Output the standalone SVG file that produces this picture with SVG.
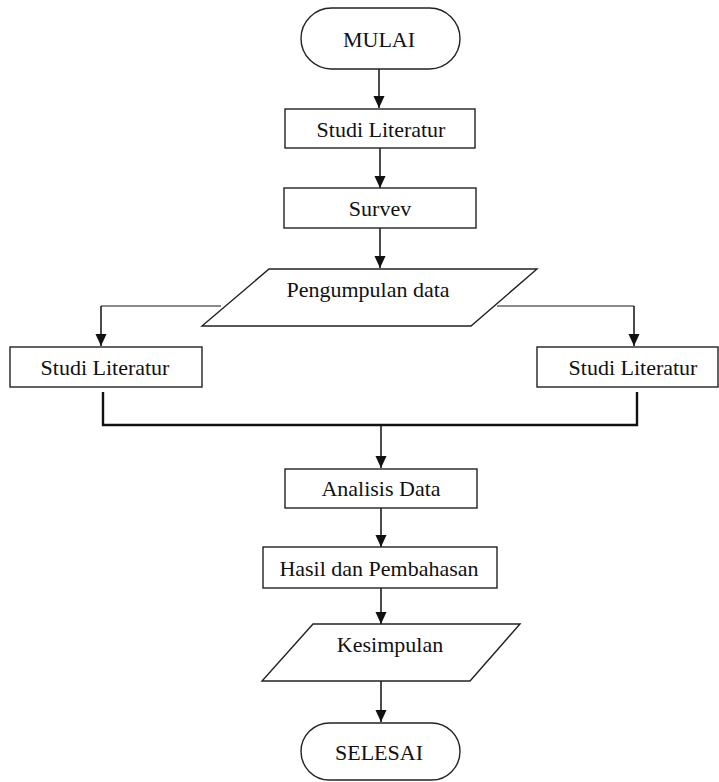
<svg xmlns="http://www.w3.org/2000/svg" width="719" height="782" viewBox="0 0 719 782">
<style>
.s{fill:#fff;stroke:#222;stroke-width:1.4}
text{font-family:'Liberation Serif','Times New Roman',serif;font-size:22px;fill:#111;text-anchor:middle}
.c{fill:none;stroke:#111;stroke-width:1.5}
.g{fill:none;stroke:#8a8a8a;stroke-width:2.2}
.k{fill:none;stroke:#111;stroke-width:2.4}
</style>
<defs>
<marker id="a" markerWidth="12" markerHeight="13" viewBox="0 0 13 12" refX="13" refY="6" orient="auto" markerUnits="userSpaceOnUse">
<path d="M0,0 L13,6 L0,12 Z" fill="#111"/>
</marker>
</defs>
<rect width="719" height="782" fill="#fff"/>
<g id="connectors">
<line class="c" x1="379" y1="69" x2="379" y2="108" marker-end="url(#a)"/>
<line class="c" x1="380" y1="148" x2="380" y2="188" marker-end="url(#a)"/>
<line class="c" x1="380" y1="228" x2="380" y2="268" marker-end="url(#a)"/>
<polyline class="g" points="221,306 101,306"/>
<line class="c" x1="101" y1="306" x2="101" y2="346" marker-end="url(#a)"/>
<polyline class="g" points="497,306 634,306"/>
<line class="c" x1="634" y1="306" x2="634" y2="346" marker-end="url(#a)"/>
<polyline class="k" points="103,392 103,425 637,425 637,392"/>
<line class="c" x1="381" y1="425" x2="381" y2="468" marker-end="url(#a)"/>
<line class="c" x1="381" y1="508" x2="381" y2="547" marker-end="url(#a)"/>
<line class="c" x1="381" y1="588" x2="381" y2="624" marker-end="url(#a)"/>
<line class="c" x1="381" y1="681" x2="381" y2="722" marker-end="url(#a)"/>
</g>
<g id="mulai">
<rect class="s" x="301" y="8" width="159" height="61" rx="30.5"/>
<text x="379" y="47">MULAI</text>
</g>
<g id="studi1">
<rect class="s" x="285" y="109" width="190" height="39"/>
<text x="381" y="137">Studi Literatur</text>
</g>
<g id="survev">
<rect class="s" x="284" y="188" width="192" height="40"/>
<text x="380" y="216">Survev</text>
</g>
<g id="pengumpulan">
<polygon class="s" points="269,269 537,269 471,326 202,326"/>
<text x="368" y="297">Pengumpulan data</text>
</g>
<g id="studi-kiri">
<rect class="s" x="10" y="347" width="192" height="40"/>
<text x="105" y="375">Studi Literatur</text>
</g>
<g id="studi-kanan">
<rect class="s" x="537" y="347" width="181" height="40"/>
<text x="633" y="375">Studi Literatur</text>
</g>
<g id="analisis">
<rect class="s" x="285" y="469" width="192" height="39"/>
<text x="381" y="496">Analisis Data</text>
</g>
<g id="hasil">
<rect class="s" x="263" y="547" width="234" height="41"/>
<text x="379" y="576">Hasil dan Pembahasan</text>
</g>
<g id="kesimpulan">
<polygon class="s" points="313,624 520,624 470,681 262,681"/>
<text x="390" y="652">Kesimpulan</text>
</g>
<g id="selesai">
<rect class="s" x="301" y="723" width="159" height="57" rx="28.5"/>
<text x="379" y="760">SELESAI</text>
</g>
</svg>
